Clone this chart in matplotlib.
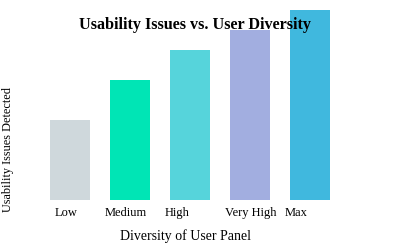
import matplotlib
matplotlib.use("Agg")
import matplotlib.pyplot as plt
import matplotlib.transforms as mtransforms

categories = ["Low", "Medium", "High", "Very High", "Max"]
values = [40, 60, 75, 85, 95]
colors = ["#cfd8dc", "#00e5b5", "#56d4db", "#a2aee0", "#40b8de"]

plt.rcParams['font.family'] = ['Liberation Serif', 'DejaVu Serif']

fig = plt.figure(figsize=(4, 2.5), dpi=100)
ax = fig.add_axes([40/400, 50/250, 300/400, 190/250])
x = list(range(len(categories)))
ax.bar(x, values, width=40/60, color=colors)
ax.set_xlim(-0.5, 4.5)
ax.set_ylim(0, 95)
for s in ax.spines.values():
    s.set_visible(False)
ax.set_yticks([])
ax.set_xticks(x)
ax.set_xticklabels(categories, fontsize=9)
ax.tick_params(axis='x', length=0, pad=5)
for i, lab in enumerate(ax.get_xticklabels()):
    lab.set_ha('left')
    dx = -15 if i == 0 else -25
    lab.set_transform(lab.get_transform() + mtransforms.ScaledTranslation(dx/100, 0, fig.dpi_scale_trans))

fig.text(186/400, 1 - 236/250, "Diversity of User Panel", ha='center', va='center', fontsize=10)
fig.text(8/400, 1 - 149/250, "Usability Issues Detected", ha='center', va='center', rotation=90, fontsize=8.8)
fig.text(195/400, 1 - 25/250, "Usability Issues vs. User Diversity", ha='center', va='center',
         fontsize=11.6, fontweight='bold', zorder=10)

fig.savefig("out.png", dpi=100)
